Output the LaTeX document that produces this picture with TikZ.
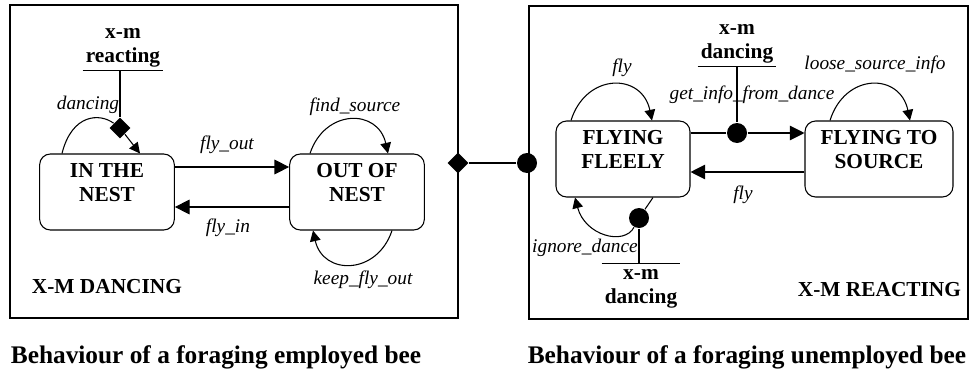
\documentclass[tikz,border=0pt]{standalone}
\usepackage{fontspec}
\setmainfont{Liberation Serif}
\usetikzlibrary{arrows.meta,shapes.geometric,calc}

\begin{document}
\begin{tikzpicture}[x=0.75pt,y=-0.75pt]
\tikzstyle{every path}=[line width=0.8pt];
\tikzstyle{frame}=[draw,line width=1.2pt,minimum height=234.75pt];
\tikzstyle{state}=[draw,rounded corners=8pt,align=center,minimum height=57pt,text depth=14pt,font=\fontsize{16}{18}\selectfont\bfseries];
\tikzstyle{ev}=[align=center,inner sep=2pt,font=\fontsize{16}{18}\selectfont\bfseries];
\tikzstyle{tag}=[anchor=west,font=\fontsize{16}{18}\selectfont\bfseries];
\tikzstyle{lbl}=[font=\fontsize{14.5}{16}\selectfont\itshape];
\tikzstyle{caption}=[font=\fontsize{19}{22}\selectfont\bfseries];
\tikzstyle{junc}=[diamond,fill,inner sep=0pt,minimum size=16pt];
\tikzstyle{dot}=[circle,fill,inner sep=0pt,minimum size=15pt];
\tikzstyle{arr}=[-{Triangle[length=11pt,width=11pt]}];
\tikzstyle{selfarr}=[-{Triangle[length=8pt,width=8pt]}];
\useasboundingbox (0,0) rectangle (970,371);

% employed bee
\node (empl) [frame,minimum width=336pt] at (234,161.5) {};
\node (nest) [state,minimum width=101pt] at (107,192) {IN THE\\NEST};
\node (out) [state,minimum width=101pt] at (357,192) {OUT OF\\NEST};
\node (react) [ev] at (123,48) {x-m\\reacting};
\node (dmA) [junc] at (120,128) {};
\node (dmB) [junc] at (458,163) {};
\node (tagA) [tag] at (27,287) {X-M DANCING};
\node (capA) [caption] at (216,357) {Behaviour of a foraging employed bee};
\draw (react.south west) -- (react.south east);
\draw (dmA |- react.south) -- (dmA);
\draw ($(nest.north)+(-45,0)$) .. controls +(10,-40) and +(-20,-15) .. (dmA);
\draw[selfarr] (dmA) -- ($(nest.north)+(33,0)$);
\draw[arr] ($(nest.east)+(0,-25)$) -- ($(out.west)+(0,-25)$);
\draw[arr] ($(out.west)+(0,15)$) -- ($(nest.east)+(0,15)$);
\draw[selfarr] ($(out.north)+(-47,0)$) .. controls +(15,-45) and +(-10,-45) .. ($(out.north)+(31,0)$);
\draw[selfarr] ($(out.south)+(35,0)$) .. controls +(-15,45) and +(10,45) .. ($(out.south)+(-44,0)$);
\node (lDance) [lbl] at (88,105) {dancing};
\node (lOut) [lbl] at (227,145) {fly\_out};
\node (lIn) [lbl] at (228,228) {fly\_in};
\node (lFind) [lbl] at (355,107) {find\_source};
\node (lKeep) [lbl] at (363,280) {keep\_fly\_out};

% unemployed bee
\node (unempl) [frame,minimum width=329.25pt] at (748.5,162.5) {};
\node (ff) [state,minimum width=100.5pt] at (623,159) {FLYING\\FLEELY};
\node (fs) [state,minimum width=111pt] at (879,159) {FLYING TO\\SOURCE};
\node (cB) [dot] at (527,163) {};
\node (cC) [dot] at (737,133) {};
\node (cD) [dot] at (639,218) {};
\node (dtop) [ev] at (737,44) {x-m\\dancing};
\node (dbot) [ev,inner ysep=4pt] at (641,289) {x-m\\dancing};
\node (tagB) [tag] at (793,290) {X-M REACTING};
\node (capB) [caption] at (747,357) {Behaviour of a foraging unemployed bee};
\draw (dmB) -- (cB);
\draw (dtop.south west) -- (dtop.south east);
\draw (cC |- dtop.south) -- (cC);
\draw ($(ff.east)+(0,-26)$) -- (cC);
\draw[arr] (cC) -- ($(fs.west)+(0,-26)$);
\draw[arr] ($(fs.west)+(0,13)$) -- ($(ff.east)+(0,13)$);
\draw[selfarr] ($(ff.north)+(-52,0)$) .. controls +(15,-48) and +(-10,-48) .. ($(ff.north)+(29,0)$);
\draw[selfarr] ($(fs.north)+(-49,0)$) .. controls +(15,-48) and +(-10,-48) .. ($(fs.north)+(31,0)$);
\draw ($(ff.south)+(30,0)$) -- (cD);
\draw[selfarr] (cD) .. controls +(-15,28) and +(10,38) .. ($(ff.south)+(-48,0)$);
\draw (dbot.north west) -- (dbot.north east);
\draw (cD) -- (cD |- dbot.north);
\node (lFly) [lbl] at (622,68) {fly};
\node (lGet) [lbl] at (752,95) {get\_info\_from\_dance};
\node (lLoose) [lbl] at (875,65) {loose\_source\_info};
\node (lBack) [lbl] at (743,195) {fly};
\node (lIgn) [lbl] at (585,248) {ignore\_dance};
\end{tikzpicture}
\end{document}
